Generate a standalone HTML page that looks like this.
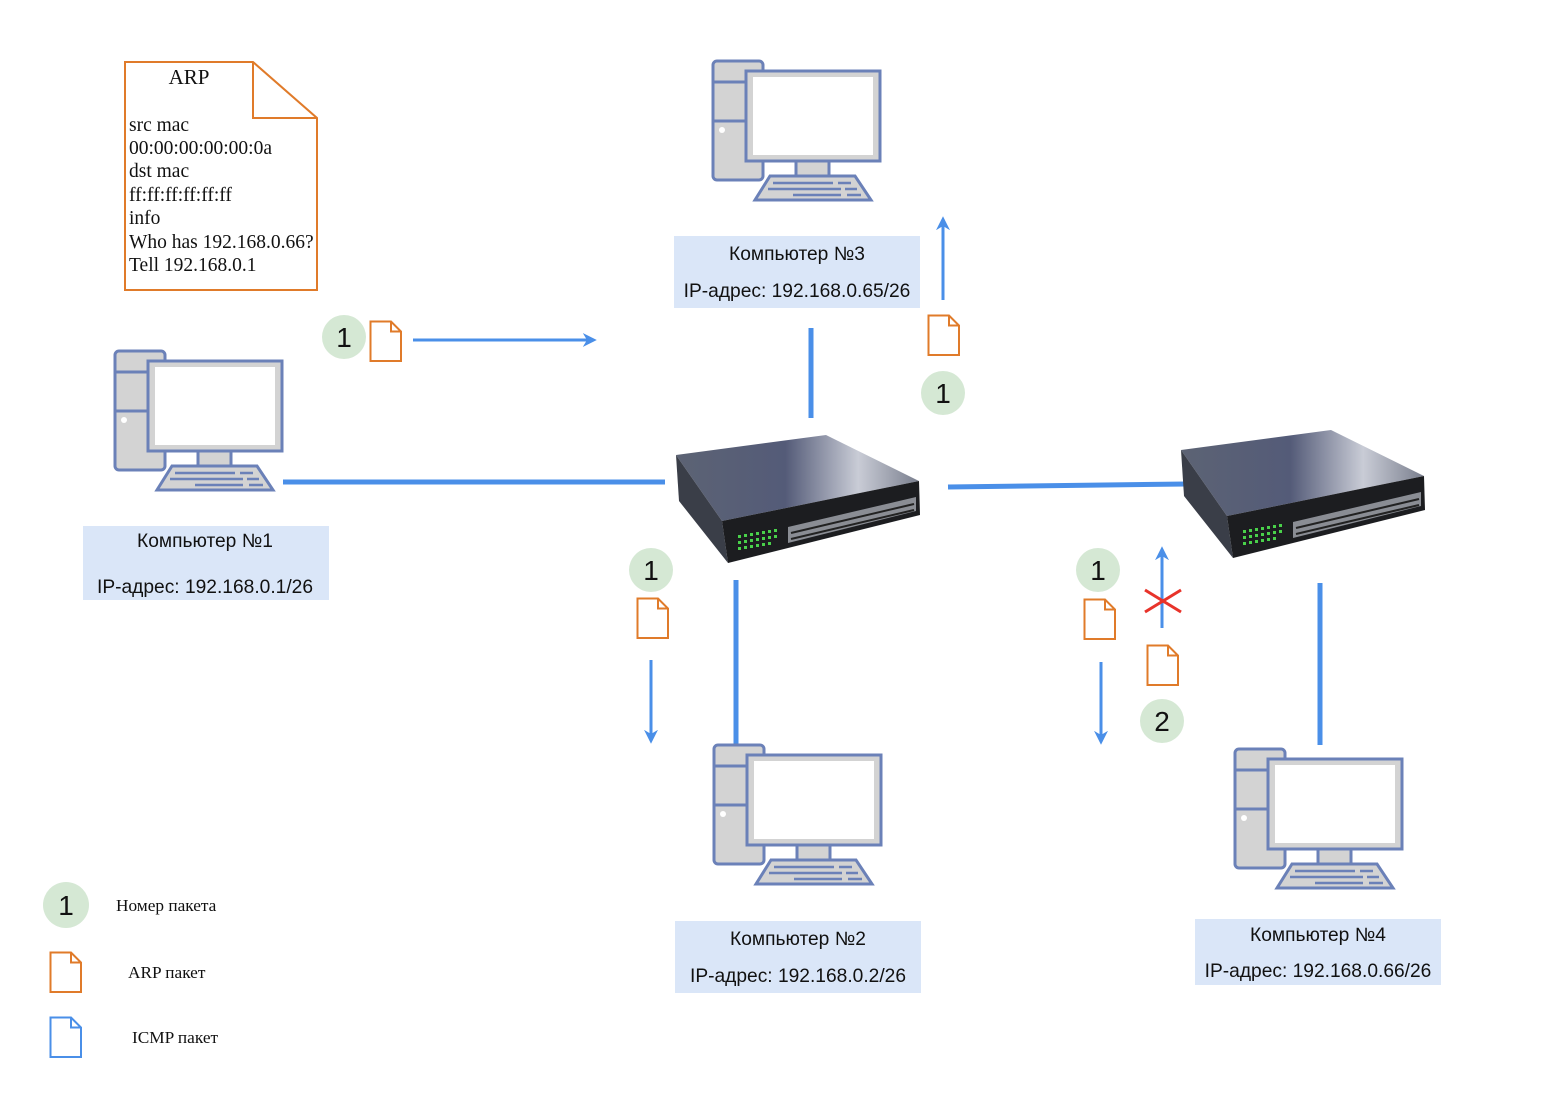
<!DOCTYPE html>
<html><head><meta charset="utf-8"><style>
html,body{margin:0;padding:0;background:#fff;}
svg{display:block;}
.lbl{font-family:"Liberation Sans",sans-serif;font-size:19.2px;fill:#111;}
.num{font-family:"Liberation Sans",sans-serif;font-size:28px;fill:#111;}
.ser{font-family:"Liberation Serif",serif;font-size:19.5px;fill:#111;}
.leg{font-family:"Liberation Serif",serif;font-size:17.3px;fill:#111;}
</style></head><body>
<svg width="1560" height="1102" viewBox="0 0 1560 1102" xmlns="http://www.w3.org/2000/svg">
<defs>
<g id="pc">
 <rect x="0" y="0" width="50" height="119" rx="4" fill="#d3d3d3" stroke="#6b81b8" stroke-width="3"/>
 <line x1="0" y1="21" x2="50" y2="21" stroke="#6b81b8" stroke-width="3"/>
 <line x1="0" y1="60" x2="50" y2="60" stroke="#6b81b8" stroke-width="3"/>
 <circle cx="9" cy="69" r="3" fill="#fff"/>
 <rect x="33" y="10" width="134" height="90" fill="#d3d3d3" stroke="#6b81b8" stroke-width="3"/>
 <rect x="40" y="16" width="120" height="78" fill="#fff"/>
 <rect x="83" y="100" width="33" height="15" fill="#d3d3d3" stroke="#6b81b8" stroke-width="3"/>
 <polygon points="57,115 142,115 158,139 42,139" fill="#d3d3d3" stroke="#6b81b8" stroke-width="3"/>
 <line x1="60" y1="122" x2="120" y2="122" stroke="#6b81b8" stroke-width="2.5"/>
 <line x1="125" y1="122" x2="138" y2="122" stroke="#6b81b8" stroke-width="2.5"/>
 <line x1="55" y1="128" x2="128" y2="128" stroke="#6b81b8" stroke-width="2.5"/>
 <line x1="132" y1="128" x2="144" y2="128" stroke="#6b81b8" stroke-width="2.5"/>
 <line x1="80" y1="134" x2="128" y2="134" stroke="#6b81b8" stroke-width="2.5"/>
 <line x1="134" y1="134" x2="148" y2="134" stroke="#6b81b8" stroke-width="2.5"/>
</g>
<linearGradient id="top" x1="0" y1="0" x2="1" y2="0">
 <stop offset="0" stop-color="#5c6374"/><stop offset="0.45" stop-color="#545b78"/><stop offset="0.75" stop-color="#c9ccd6"/><stop offset="1" stop-color="#7a7f8e"/>
</linearGradient>
<g id="sw">
 <polygon points="0,20 150,0 243,46 46,86" fill="url(#top)"/>
 <polygon points="0,20 46,86 52,128 3,66" fill="#3a3e48"/>
 <polygon points="46,86 243,46 244,80 52,128" fill="#1c1d20"/>
 <g fill="#49d14a">
  <rect x="62" y="100" width="3" height="3"/><rect x="68" y="99" width="3" height="3"/><rect x="74" y="98" width="3" height="3"/><rect x="80" y="97" width="3" height="3"/><rect x="86" y="96" width="3" height="3"/><rect x="92" y="95" width="3" height="3"/><rect x="98" y="94" width="3" height="3"/>
  <rect x="62" y="106" width="3" height="3"/><rect x="68" y="105" width="3" height="3"/><rect x="74" y="104" width="3" height="3"/><rect x="80" y="103" width="3" height="3"/><rect x="86" y="102" width="3" height="3"/><rect x="92" y="101" width="3" height="3"/><rect x="98" y="100" width="3" height="3"/>
  <rect x="62" y="112" width="3" height="3"/><rect x="68" y="111" width="3" height="3"/><rect x="74" y="110" width="3" height="3"/><rect x="80" y="109" width="3" height="3"/><rect x="86" y="108" width="3" height="3"/><rect x="92" y="107" width="3" height="3"/>
 </g>
 <polygon points="112,92 240,62 240,76 112,108" fill="#8a8d94"/>
 <g stroke="#222" stroke-width="2">
  <line x1="115" y1="98" x2="238" y2="69"/>
  <line x1="115" y1="104" x2="238" y2="75"/>
 </g>
</g>
<g id="doc">
 <path d="M1.5,1.5 H22 L32,11.5 V41 H1.5 Z" fill="#fff" stroke="#e07b2a" stroke-width="2"/>
 <path d="M22,1.5 V11.5 H32" fill="none" stroke="#e07b2a" stroke-width="2"/>
</g>
<marker id="ah2" viewBox="0 0 10 10" markerWidth="14" markerHeight="14" refX="8" refY="5" orient="auto" markerUnits="userSpaceOnUse">
 <path d="M0,0 L10,5 L0,10 L3,5 Z" fill="#4a8fe8"/>
</marker>
</defs>

<g stroke="#4a8fe8" stroke-width="5">
 <line x1="283" y1="482" x2="665" y2="482"/>
 <line x1="811" y1="328" x2="811" y2="418"/>
 <line x1="736" y1="580" x2="736" y2="750"/>
 <line x1="948" y1="487" x2="1186" y2="484"/>
 <line x1="1320" y1="583" x2="1320" y2="745"/>
</g>

<use href="#pc" x="115" y="351"/>
<use href="#pc" x="713" y="61"/>
<use href="#pc" x="714" y="745"/>
<use href="#pc" x="1235" y="749"/>

<use href="#sw" x="676" y="435"/>
<use href="#sw" x="1181" y="430"/>

<rect x="83" y="526" width="246" height="74" fill="#dae6f8"/>
<text class="lbl" x="205" y="547" text-anchor="middle">Компьютер №1</text>
<text class="lbl" x="205" y="593" text-anchor="middle">IP-адрес: 192.168.0.1/26</text>
<rect x="674" y="236" width="246" height="72" fill="#dae6f8"/>
<text class="lbl" x="797" y="260" text-anchor="middle">Компьютер №3</text>
<text class="lbl" x="797" y="297" text-anchor="middle">IP-адрес: 192.168.0.65/26</text>
<rect x="675" y="921" width="246" height="72" fill="#dae6f8"/>
<text class="lbl" x="798" y="945" text-anchor="middle">Компьютер №2</text>
<text class="lbl" x="798" y="982" text-anchor="middle">IP-адрес: 192.168.0.2/26</text>
<rect x="1195" y="919" width="246" height="66" fill="#dae6f8"/>
<text class="lbl" x="1318" y="941" text-anchor="middle">Компьютер №4</text>
<text class="lbl" x="1318" y="977" text-anchor="middle">IP-адрес: 192.168.0.66/26</text>

<path d="M125,62 H253 L317,118 V290 H125 Z" fill="#fff" stroke="#e07b2a" stroke-width="2"/>
<path d="M253,62 V118 H317" fill="none" stroke="#e07b2a" stroke-width="2"/>
<text class="ser" x="189" y="84" text-anchor="middle" style="font-size:21px">ARP</text>
<text class="ser" x="129" y="131">src mac</text>
<text class="ser" x="129" y="154">00:00:00:00:00:0a</text>
<text class="ser" x="129" y="177">dst mac</text>
<text class="ser" x="129" y="201">ff:ff:ff:ff:ff:ff</text>
<text class="ser" x="129" y="224">info</text>
<text class="ser" x="129" y="248">Who has 192.168.0.66?</text>
<text class="ser" x="129" y="271">Tell 192.168.0.1</text>

<g stroke="#4a8fe8" stroke-width="3" fill="none">
 <line x1="413" y1="340" x2="594" y2="340" marker-end="url(#ah2)"/>
 <line x1="943" y1="300" x2="943" y2="219" marker-end="url(#ah2)"/>
 <line x1="651" y1="660" x2="651" y2="741" marker-end="url(#ah2)"/>
 <line x1="1101" y1="662" x2="1101" y2="742" marker-end="url(#ah2)"/>
 <line x1="1162" y1="628" x2="1162" y2="549" marker-end="url(#ah2)"/>
</g>
<g stroke="#e8332a" stroke-width="3">
 <line x1="1145" y1="590" x2="1181" y2="612"/>
 <line x1="1145" y1="612" x2="1181" y2="590"/>
</g>

<g fill="#d5e8d4">
 <circle cx="344" cy="337" r="22"/>
 <circle cx="943" cy="393" r="22"/>
 <circle cx="651" cy="570" r="22"/>
 <circle cx="1098" cy="570" r="22"/>
 <circle cx="1162" cy="721" r="22"/>
 <circle cx="66" cy="905" r="23"/>
</g>
<text class="num" x="344" y="347" text-anchor="middle">1</text>
<text class="num" x="943" y="403" text-anchor="middle">1</text>
<text class="num" x="651" y="580" text-anchor="middle">1</text>
<text class="num" x="1098" y="580" text-anchor="middle">1</text>
<text class="num" x="1162" y="731" text-anchor="middle">2</text>
<text class="num" x="66" y="915" text-anchor="middle">1</text>

<use href="#doc" x="369" y="320"/>
<use href="#doc" x="927" y="314"/>
<use href="#doc" x="636" y="597"/>
<use href="#doc" x="1083" y="598"/>
<use href="#doc" x="1146" y="644"/>
<use href="#doc" x="49" y="951"/>
<path d="M50.5,1017.5 H71 L81,1027.5 V1057 H50.5 Z" fill="#fff" stroke="#4a8fe8" stroke-width="2"/>
<path d="M71,1017.5 V1027.5 H81" fill="none" stroke="#4a8fe8" stroke-width="2"/>

<text class="leg" x="116" y="911">Номер пакета</text>
<text class="leg" x="128" y="978">ARP пакет</text>
<text class="leg" x="132" y="1043">ICMP пакет</text>
</svg>
</body></html>
